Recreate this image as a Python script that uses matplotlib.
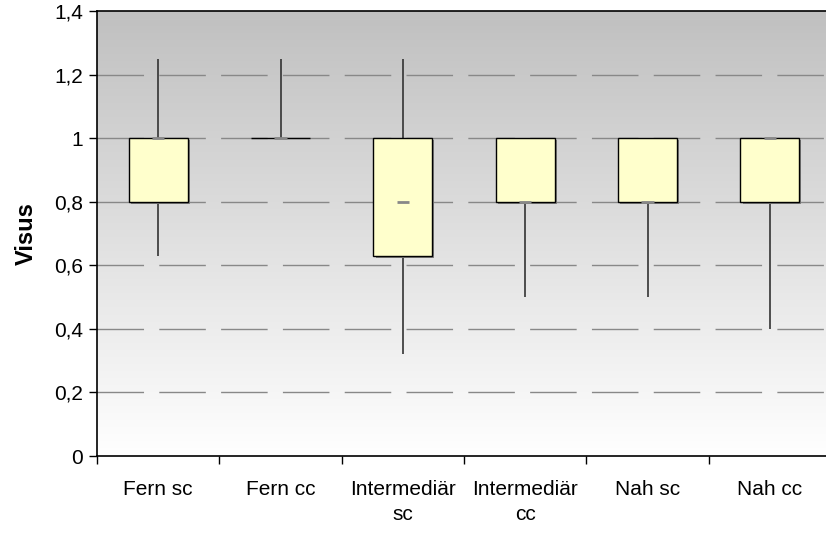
import matplotlib
matplotlib.use('Agg')
import matplotlib.pyplot as plt
import numpy as np

plt.rcParams['font.family'] = ['Liberation Sans', 'DejaVu Sans']

# Daten
categories = ['Fern sc', 'Fern cc', 'Intermediär\nsc', 'Intermediär\ncc', 'Nah sc', 'Nah cc']
whisker_low = [0.63, 1.0, 0.32, 0.5, 0.5, 0.4]
q1 = [0.8, 1.0, 0.63, 0.8, 0.8, 0.8]
median = [1.0, 1.0, 0.8, 0.8, 0.8, 1.0]
q3 = [1.0, 1.0, 1.0, 1.0, 1.0, 1.0]
whisker_high = [1.25, 1.25, 1.25, 1.0, 1.0, 1.0]
y_ticks = [0, 0.2, 0.4, 0.6, 0.8, 1.0, 1.2, 1.4]
y_labels = ['0', '0,2', '0,4', '0,6', '0,8', '1', '1,2', '1,4']

fig = plt.figure(figsize=(8.26, 5.33), dpi=100)
ax = fig.add_axes([97 / 826, 1 - 456 / 533, (831 - 97) / 826, 445 / 533])

x = np.arange(len(categories))
low = np.array(whisker_low)
lo = np.array(q1)
hi = np.array(q3)
top = np.array(whisker_high)

# Hintergrund mit Verlauf (grau oben, weiss unten)
grad = np.linspace(1, 0, 256).reshape(-1, 1)
ax.imshow(grad, extent=[0, 1, 0, 1], transform=ax.transAxes, aspect='auto',
          cmap=matplotlib.colors.LinearSegmentedColormap.from_list('bg', ['#ffffff', '#c0c0c0']),
          zorder=0)

ax.set_xlim(-0.5, len(categories) - 0.5)
ax.set_ylim(0, 1.4)

# Gitterlinien
for yv in y_ticks[1:-1]:
    ax.axhline(yv, color='#888888', lw=1, linestyle=(0, (33.5, 11)), zorder=1)

# Whisker
ax.vlines(x, low, lo, color='#333333', lw=1.2, zorder=2)
ax.vlines(x, hi, top, color='#333333', lw=1.2, zorder=2)

# Schatten und Boxen
w = 0.48
ax.bar(x + 0.018, hi - lo, bottom=lo - 0.007, width=w, color='#808080', zorder=3)
ax.bar(x, hi - lo, bottom=lo, width=w, color='#ffffcc', edgecolor='black', lw=1.0, zorder=4)

# Median
ax.hlines(median, x - 0.05, x + 0.05, color='#888888', lw=2, zorder=5)

# Achsen
ax.spines['right'].set_visible(False)
for s in ['left', 'bottom', 'top']:
    ax.spines[s].set_linewidth(1.2)
    ax.spines[s].set_zorder(6)

ax.set_yticks(y_ticks)
ax.set_yticklabels(y_labels, fontsize=15)
ax.tick_params(axis='y', direction='out', length=6, width=1, pad=4)

ax.set_xticks(np.arange(len(categories) + 1) - 0.5)
ax.set_xticklabels([])
ax.set_xticks(x, minor=True)
ax.set_xticklabels(categories, minor=True, fontsize=15, linespacing=1.45)
ax.tick_params(axis='x', which='major', direction='out', length=6, width=1)
ax.tick_params(axis='x', which='minor', length=0, pad=17)

ax.set_ylabel('Visus', fontsize=17, fontweight='bold', labelpad=12)

fig.savefig('out.png', dpi=100)
